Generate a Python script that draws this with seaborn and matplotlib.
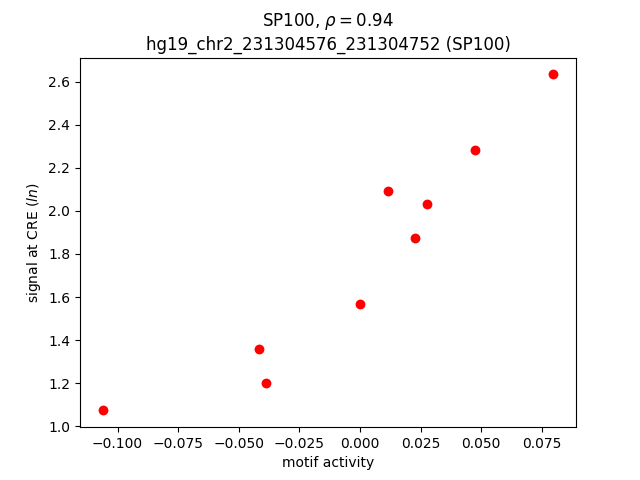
import matplotlib
matplotlib.use("Agg")
import matplotlib.pyplot as plt
import seaborn as sns
import pandas as pd

# motif activity vs signal at CRE
motif_activity = [-0.1062, -0.0417, -0.0388, 0.0000, 0.0116, 0.0227, 0.0277, 0.0475, 0.0798]
cre_signal = [1.074, 1.357, 1.199, 1.566, 2.090, 1.872, 2.030, 2.280, 2.633]

df = pd.DataFrame({"motif activity": motif_activity, "signal": cre_signal})

fig, ax = plt.subplots(figsize=(6.4, 4.8), dpi=100)
sns.scatterplot(data=df, x="motif activity", y="signal", color="red",
                s=50, edgecolor="red", linewidth=0, ax=ax)

ax.set_title("SP100, $\\rho = 0.94$\nhg19_chr2_231304576_231304752 (SP100)")
ax.set_xlabel("motif activity")
ax.set_ylabel("signal at CRE ($ln$)")

plt.savefig("out.png")
